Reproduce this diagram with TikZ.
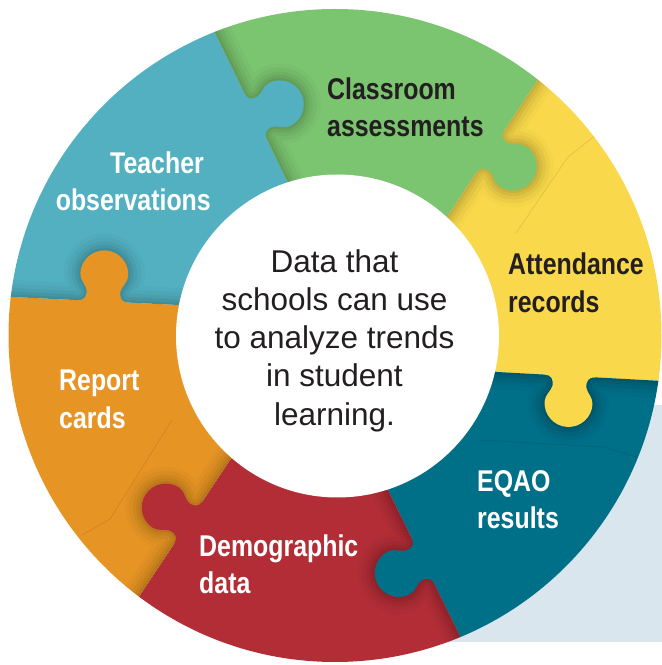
\documentclass[tikz,border=0pt]{standalone}
\usepackage{fontspec}
\setmainfont{Liberation Sans}
\newfontfamily\labelfont[FakeStretch=0.83]{Liberation Sans Bold}
\definecolor{cTeal}{HTML}{52B0C0}
\definecolor{cGreen}{HTML}{7BC470}
\definecolor{cYellow}{HTML}{F9D94B}
\definecolor{cBlue}{HTML}{006F88}
\definecolor{cRed}{HTML}{B22D36}
\definecolor{cOrange}{HTML}{E69424}
\definecolor{cBg}{HTML}{D9E6EE}
\definecolor{cText}{HTML}{231F20}
\def\tabfill{(-25,-4) -- (-25,0) .. controls (-19,0) and (-16,4) .. (-17,11) .. controls (-18,16) and (-24,20) .. (-24,27) .. controls (-24,40.25) and (-13.25,51) .. (0,51) .. controls (13.25,51) and (24,40.25) .. (24,27) .. controls (24,20) and (18,16) .. (17,11) .. controls (16,4) and (19,0) .. (25,0) -- (25,-4) -- cycle}
\def\boundary{(-220,0) -- (-25,0) .. controls (-19,0) and (-16,4) .. (-17,11) .. controls (-18,16) and (-24,20) .. (-24,27) .. controls (-24,40.25) and (-13.25,51) .. (0,51) .. controls (13.25,51) and (24,40.25) .. (24,27) .. controls (24,20) and (18,16) .. (17,11) .. controls (16,4) and (19,0) .. (25,0) -- (220,0)}
\newcommand\pieceshadow[2]{%
  \begin{scope}
    \clip #1;
    \begin{scope}[#2]
      \foreach \w/\o in {34/0.02,26/0.03,18/0.04,11/0.05,5/0.06}{
        \draw[line width=\w pt, black, opacity=\o, line join=round] \boundary;
      }
    \end{scope}
  \end{scope}}
\tikzset{
  lab/.style={inner sep=0pt, font=\labelfont\fontsize{30}{36}\selectfont},
  ctr/.style={inner sep=0pt, font=\fontsize{31.5}{38}\selectfont, text=cText, anchor=base},
  seam/.style={line width=0.4pt, black, opacity=0.15}
}
\begin{document}
\begin{tikzpicture}[x=1pt,y=1pt]
\useasboundingbox (0,0) rectangle (662,665);
\fill[cBg] (400,23) rectangle (662,260);
\coordinate (C) at (337,329);
\coordinate (I1) at (288,482); \coordinate (E1) at (142,782);
\coordinate (I2) at (447,448); \coordinate (E2) at (631,726);
\coordinate (I3) at (497,293); \coordinate (E3) at (827,275);
\coordinate (I4) at (389,173); \coordinate (E4) at (535,-123);
\coordinate (I5) at (230,205); \coordinate (E5) at (46,-71);
\coordinate (I6) at (178,360); \coordinate (E6) at (-154,376);
\def\wTeal{(E6) -- (I6) -- (C) -- (I1) -- (E1) -- cycle}
\def\wGreen{(E1) -- (I1) -- (C) -- (I2) -- (E2) -- cycle}
\def\wYellow{(E2) -- (I2) -- (C) -- (I3) -- (E3) -- cycle}
\def\wBlue{(E3) -- (I3) -- (C) -- (I4) -- (E4) -- cycle}
\def\wRed{(E4) -- (I4) -- (C) -- (I5) -- (E5) -- cycle}
\def\wOrange{(E5) -- (I5) -- (C) -- (I6) -- (E6) -- cycle}
\begin{scope}
  \clip (335,329.5) circle (326.5);
  \fill[cTeal] \wTeal;
  \fill[cGreen] \wGreen;
  \fill[cYellow] \wYellow;
  \fill[cBlue] \wBlue;
  \fill[cRed] \wRed;
  \fill[cOrange] \wOrange;
  % faint seams
  \draw[seam] (596,530) -- (568,508) -- (516,432);
  \draw[seam] (172,245) -- (110,146) -- (82,130);
  \draw[seam] (480,225) -- (603,218) -- (640,207);
  % shadows on receiving pieces
  \pieceshadow{\wGreen}{shift={(255.5,548.8)},rotate=-64.06}
  \pieceshadow{\wYellow}{shift={(490.3,513.4)},rotate=-123.5}
  \pieceshadow{\wBlue}{shift={(570,289)},rotate=-183.12}
  \pieceshadow{\wRed}{shift={(423,104)},rotate=116.25}
  \pieceshadow{\wOrange}{shift={(188.25,142.4)},rotate=56.31}
  \pieceshadow{\wTeal}{shift={(103,363.6)},rotate=-2.76}
  % tabs
  \fill[cTeal, shift={(255.5,548.8)}, rotate=-64.06] \tabfill;
  \fill[cGreen, shift={(490.3,513.4)}, rotate=-123.5] \tabfill;
  \fill[cYellow, shift={(570,289)}, rotate=-183.12] \tabfill;
  \fill[cBlue, shift={(423,104)}, rotate=116.25] \tabfill;
  \fill[cRed, shift={(188.25,142.4)}, rotate=56.31] \tabfill;
  \fill[cOrange, shift={(103,363.6)}, rotate=-2.76] \tabfill;
\end{scope}
\fill[white] (337.5,329) circle (161.5);
% centre text
\node[ctr] (c1) at (334.5,392) {Data that};
\node[ctr] (c2) at (334.5,354) {schools can use};
\node[ctr] (c3) at (334.5,316) {to analyze trends};
\node[ctr] (c4) at (334.5,278) {in student};
\node[ctr] (c5) at (334.5,239) {learning.};
% labels
\node[lab, text=white, anchor=base east] (t1) at (204,491) {Teacher};
\node[lab, text=white, anchor=base east] (t2) at (211,454) {observations};
\node[lab, text=cText, anchor=base west] (g1) at (327,565) {Classroom};
\node[lab, text=cText, anchor=base west] (g2) at (327,528) {assessments};
\node[lab, text=cText, anchor=base west] (y1) at (508,390) {Attendance};
\node[lab, text=cText, anchor=base west] (y2) at (508,352) {records};
\node[lab, text=white, anchor=base west] (b1) at (477,173) {EQAO};
\node[lab, text=white, anchor=base west] (b2) at (477,136) {results};
\node[lab, text=white, anchor=base west] (r1) at (199,108) {Demographic};
\node[lab, text=white, anchor=base west] (r2) at (199,71) {data};
\node[lab, text=white, anchor=base west] (o1) at (59,274) {Report};
\node[lab, text=white, anchor=base west] (o2) at (59,236) {cards};
\end{tikzpicture}
\end{document}
